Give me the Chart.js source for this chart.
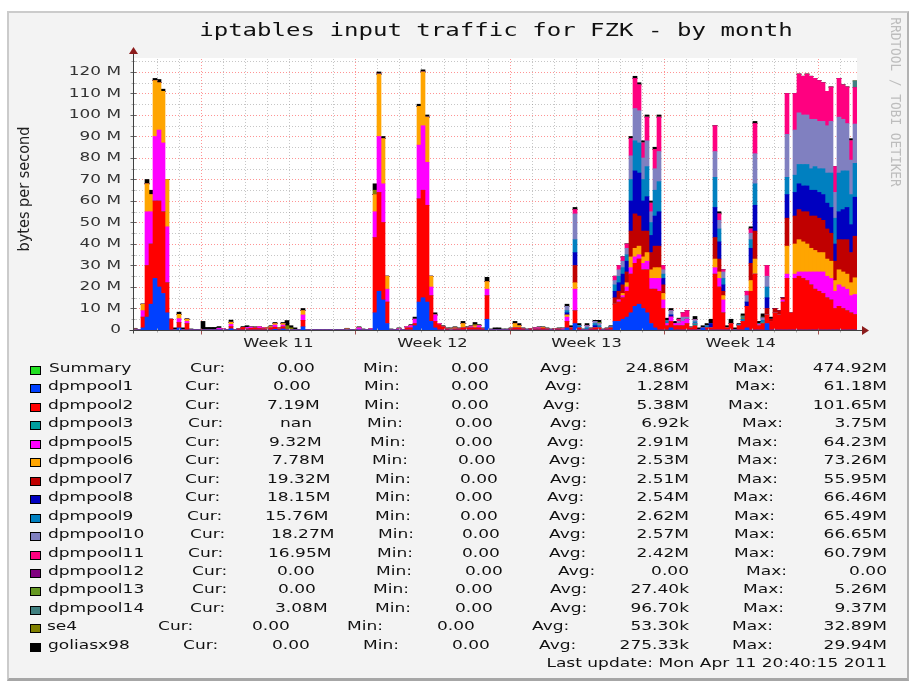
<!DOCTYPE html>
<html>
<head>
<meta charset="utf-8">
<title>iptables input traffic for FZK - by month</title>
<script src="https://cdn.jsdelivr.net/npm/chart.js@4.4.1/dist/chart.umd.min.js"></script>
<style>
  html, body { margin: 0; padding: 0; background: #fff; width: 911px; height: 684px; overflow: hidden; }
  #panel { position: absolute; left: 7px; top: 11px; width: 902px; height: 670px; box-sizing: border-box;
           background: #f3f3f3; border: 2px solid #cbcbcb; border-right-color: #b2b2b2; border-bottom: 3px solid #a6a6a6; }
  #graph { position: absolute; left: 0; top: 0; }
</style>
</head>
<body>
<div id="panel"></div>
<canvas id="graph" width="911" height="684"></canvas>
<script>
// one bin is roughly 4.4 hours, values in M (10^6 bytes per second)
// bins run from the left edge of the plot to "now"
const dpmpool1 = [
  0,0,1,6,12,24,20,17,8,0,
  0,1,0,0,0,0,0,0,0,0,
  0,0,0,0,0.6,0,0,0,0,0,
  0,0,0,0,0,0.3,0,0.5,0,0,
  0,0,1.5,0,0,0,0,0,0,0,
  0,0,0,0,0,0,0,0,0,0,
  8,18,14,3,0,0,0,0,0,0,
  2,13,15,13,4,1,0,0,0,0,
  0,0,0,0,0,0,0,0,5,0,
  0,0,0,0,0,0,0,0,0,0,
  0,0,0,0,0,0,0,0,1,0,
  3,0,0,0,0,0,0,0,0,0,
  4,4,5,6,8,11,12,10,8,3,
  1,0,0,0,1,0,0,0,0,0,
  0,0,1,0,0,0,0,0,0,0,
  0,0,0,1,0,0,0,0,3,0,
  0,0,0,0,0,0,0,0,0,0,
  0,0,0,0,0,0,0,0,0,0,
  0
];
const dpmpool2 = [
  0,0,5,24,28,36,40,38,14,5,
  0,2.5,0,3,0,0,0,0,0,0,
  0,0,0,0,1,0,0.5,1.2,0.5,0.8,
  1,0.7,0.6,0.5,1,1,0.5,1,0,0,
  0,0,3,0,0,0,0,0,0,0,
  0,0,0,0,0,0,0,0,0,0,
  35,46,36,10,0,0,0,0,1,1,
  1,48,50,45,12,3,2.5,1.5,0.5,0,
  0.5,0.5,1,1,1,1,1,0.5,11,0,
  0,0,0,0,0.5,1,1,0.5,0,0.5,
  0.5,0.5,0.7,0.5,0,0.5,0.5,0,3,1,
  6,1,0,0,0.5,1,1,0,0.5,1,
  8,9,10,12,18,20,21,18,20,16,
  18,18,10,2,3,2,2,2,3,1,
  2,0,0,1,1,26,20,8,1,3,
  0,2,4,10,18,26,2,3,4,4,
  8,7,13,24,8,24,25,24,23,21,
  19,18,17,15,14,10,11,10,9,8,
  7.19
];
const dpmpool3 = [
  0,0,0,0,0,0,0,0,0,0,
  0,0,0,0,0,0,0,0,0,0,
  0,0,0,0,0,0,0,0,0,0,
  0,0,0,0,0,0,0,0,0,0,
  0,0,0,0,0,0,0,0,0,0,
  0,0,0,0,0,0,0,0,0,0,
  0,0,0,0,0,0,0,0,0,0,
  0,0,0,0,0,0,0,0,0,0,
  0,0,0,0,0,0,0,0,0,0,
  0,0,0,0,0,0,0,0,0,0,
  0,0,0,0,0,0,0,0,0,0,
  0,0,0,0,0,0,0,0,0,0,
  0,0,0,0,0,0,0,0,0,0,
  0,0,0,0,0,0,0,0,0,0,
  0.8,0,0,0,0,0,0,0,0,0,
  0,0,0,0,0,0,0,0.5,0,0,
  0,0,0,0,0,0,0,0,0,0,
  0,0,0,0,0,0,0,0,0,0,
  0
];
const dpmpool5 = [
  0,0,3,25,15,30,33,32,26,0,
  0,1.8,0,1,0,0,0,0,0,0,
  0,0.8,0.5,0,1,0,0,0,0.7,0.5,
  0,0.8,0.4,0,0,1,0,0.8,0,0,
  0,0,2.5,0,0,0,0,0,0,0,
  0,0,0,0,0,0,1,0,0,0.5,
  12,26,18,6,0,0,0.5,0,0.5,1,
  2,25,30,20,4,3,0.5,0,0,0,
  0,0,0,0,0.5,0,1,0,3,0,
  0,0,0,0,0,0,0,0,0,0,
  0.4,0.5,0,0,0,0,0,0.5,2,0,
  10,0,0,0,0,0,0,0,0,0,
  0,1,1,2,3,3,2,3,4,5,
  5,6,4,1,2,1,1,2,2,0,
  0,0,0,0,0,3,4,6,0,0,
  0,0,0,0,0,0,0.5,0,0,0,
  0,0,1,2,0,2,2,3,4,6,
  8,9,10,10,10,8,10,10,10,8,
  9.32
];
const dpmpool6 = [
  0.4,0,3,13,8,26,22,24,22,0,
  0,2,0,1,0,0,0,0,0,0,
  0,0,0,0,1,0,0,0,0,0,
  0,0,0,0.5,0.6,0.7,0.5,0.7,0,0,
  0,0,2,0,0,0,0,0,0,0,
  0,0,0,0.5,0,0,0,0,0,0,
  8,29,21,6,0,0,0,0,0,0,
  0,18,25,21,5,0,0,0,0,0.5,
  0.5,0,2,0,0,1,0,0,3.5,0,
  0,0,0,0,0,2,1,0,0,0,
  0,0,0.4,0,0,0,0,0,1,0,
  3,0,0,0,0,0,0,0,0,0,
  0,0,1,2,5,4,4,3,4,4,
  5,5,3,0,0,0,0,0,0,0,
  0,0,0,0,0,4,3,2,0,0,
  0,0,0,0,5,7,0,0,0,0,
  0,0,0,13,0,14,15,14,13,11,
  10,9,9,8,8,5,7,7,7,6,
  7.78
];
const dpmpool7 = [
  0,0,0,0,0,0,0,0,0,0,
  0,0,0,0,0,0,0,0,0,0,
  0,0,0,0,0,0,0,0,0,0,
  0,0,0,0,0,0,0,0,0,0,
  0,0,0,0,0,0,0,0,0,0,
  0,0,0,0,0,0,0,0,0,0,
  0,0,0,0,0,0,0,0,0,0,
  0,0,0,0,0,0,0,0,0,0,
  0,0,0,0,0,0,0,0,0,0,
  0,0,0,0,0,0,0,0,0,0,
  0,0,0,0,0,0,0,0,0,0,
  8,0,0,0,0,0,0,0,0,0,
  3,4,4,5,12,16,14,12,10,8,
  10,10,4,0,0,0,0,0,0,0,
  0,0,0,0,0,10,6,2,0,0,
  0,0,0,0,8,13,0,0,3,1,
  2,2,1,13,0,13,14,14,15,15,
  16,16,15,14,13,9,14,15,16,14,
  19.32
];
const dpmpool8 = [
  0,0,0,0,0,0,0,0,0,0,
  0,0,0,0,0,0,0,0,0,0,
  0,0,0,0,0,0,0,0,0,0,
  0,0,0,0,0,0,0,0,0,0,
  0,0,0,0,0,0,0,0,0,0,
  0,0,0,0,0,0,0,0,0,0,
  0,0,0,0,0,0,0,0,0,0,
  0,0,0,0,0,0,0,0,0,0,
  0,0,0,0,0,0,0,0,0,0,
  0,0,0,0,0,0,0,0,0,0,
  0,0,0,0,0,0,0,0,1,0,
  6,0,0,0,0,1,0,0,0,0,
  3,4,5,5,14,20,20,14,16,8,
  14,16,3,0,1,0,0,0,0,0,
  0,0,0,0,2,14,8,3,0,0,
  0,0,0,2,7,12,0,0,5,0,
  0,0,0,11,0,11,12,12,12,12,
  12,12,12,12,12,8,13,14,15,13,
  18.15
];
const dpmpool9 = [
  0,0,0,0,0,0,0,0,0,0,
  0,0,0,0,0,0,0,0,0,0,
  0,0,0,0,0,0,0,0,0,0,
  0,0,0,0,0,0,0,0,0,0,
  0,0,0,0,0,0,0,0,0,0,
  0,0,0,0,0,0,0,0,0,0,
  0,0,0,0,0,0,0,0,0,0,
  0,0,0,0,0,0,0,0,0,0,
  0,0,0,0,0,0,0,0,0,0,
  0,0,0,0,0,0,0,0,0,0,
  0,0,0,0,0,0,0,0,1,0,
  6,1,0,1,0,1,1,0,0,0.5,
  3,3,3,3,10,14,14,10,14,6,
  12,14,2,1,0,0,0,0,0,0,
  1,0,0,1,0,14,6,3,0,0,
  0,0.5,1,0,4,10,0.5,1,5,0,
  0,0,0,8,0,8,9,10,10,10,
  11,11,12,14,16,12,18,18,17,14,
  15.76
];
const dpmpool10 = [
  0,0,0,0,0,0,0,0,0,0,
  0,0,0,0,0,0,0,0,0,0,
  0,0,0,0,0,0,0,0,0,0,
  0,0,0,0,0,0,0,0,0,0,
  0,0,0,0,0,0,0,0,0,0,
  0,0,0,0,0,0,0,0,0,0,
  0,0,0,0,0,0,0,0,0,0,
  0,0,0,0,0,0,0,0,0,0,
  0,0,0,0,0,0,0,0,0,0,
  0,0,0,0,0,0,0,0,0,0,
  0,0,0,0,0,0,0,0,2,0,
  12,0,0,1,0,1,1,0,0,0,
  2,3,3,3,11,15,15,10,12,5,
  10,14,2,0,2,0,1,2,1,0,
  1,0,0,0,0,12,4,3,0,0,
  0,0,0,3,3,14,0,1,5,0,
  0,0,0,20,0,21,24,23,23,23,
  22,22,22,22,24,12,26,24,22,16,
  18.27
];
const dpmpool11 = [
  0,0,0,0,0,0,0,0,0,0,
  0,0,0,0,0,0,0,0,0,0,
  0,0,0,0,0,0,0,0,0,0,
  0,0,0,0,0,0,0,0,0,0,
  0,0,0,0,0,0,0,0,0,0,
  0,0,0,0,0,0,0,0,0,0,
  0,0,0,0,0,0,0,0,0,0,
  0,0,0,0,0,0,0,0,0,0,
  0,0,0,0,0,0,0,0,0,0,
  0,0,0,0,0,0,0,0,0,0,
  0,0,0,0,0,0,0,0,0,0,
  2,0,0,0,0,0,0,0,0,0,
  2,2,2,2,8,14,12,7,11,4,
  9,16,2,0,0,0,1,2,3,0,
  0,0,0,0,0,12,3,1,0,0,
  0,0,0,2,2,14,0,0,5,0,
  0,0,0,19,0,17,18,18,19,20,
  19,19,18,16,16,12,18,16,17,9,
  16.95
];
const dpmpool12 = [
  0,0,0,0,0,0,0,0,0,0,
  0,0,0,0,0,0,0,0,0,0,
  0,0,0,0,0,0,0,0,0,0,
  0,0,0,0,0,0,0,0,0,0,
  0,0,0,0,0,0,0,0,0,0,
  0,0,0,0,0,0,0,0,0,0,
  0,0,0,0,0,0,0,0,0,0,
  0,0,0,0,0,0,0,0,0,0,
  0,0,0,0,0,0,0,0,0,0,
  0,0,0,0,0,0,0,0,0,0,
  0,0,0,0,0,0,0,0,0,0,
  0,0,0,0,0,0,0,0,0,0,
  0,0,0,0,0,0,0,0,0,0,
  0,0,0,0,0,0,0,0,0,0,
  0,0,0,0,0,0,0,0,0,0,
  0,0,0,0,0,0,0,0,0,0,
  0,0,0,0,0,0,0,0,0,0,
  0,0,0,0,0,0,0,0,0,0,
  0
];
const dpmpool13 = [
  0,0,0,0,0,0,0,0,0,0,
  0,0,0,0,0,0,0,0,0,0,
  0,0,0,0,0,0,0,0,0,0,
  0,0,0,0,0,0,0,0,0,0,
  0,0,0,0,0,0,0,0,0,0,
  0,0,0,0,0,0,0,0,0,0,
  0,0,0,0,0,0,0,0,0,0,
  0,0,0,0,0,0,0,0,0,0,
  0,0,0,0,0,0,0,0,0,0,
  0,0,0,0,0,0,0,0,0,0,
  0,0,0,0,0,0,0,0,0,0,
  0,0,0,0,0,0,0.5,0,0,0,
  0,0,0,0,0,0,0,0,0,0,
  0,0,0,0,0,0,0,0,0,0,
  0,0,0,0,0,0,0,0,0,0,
  0,0,0.5,0,0,0,0,0,0,0,
  0,0,0,0,0,0,0,0,0,0,
  0,0,0,0,0,0,0,0,0,0,
  0
];
const dpmpool14 = [
  0,0,0,0,0,0,0,0,0,0,
  0,0,0,0,0,0,0,0,0,0,
  0,0,0,0,0,0,0,0,0,0,
  0,0,0,0,0,0,0,0,0,0,
  0,0,0,0,0,0,0,0,0,0,
  0,0,0,0,0,0,0,0,0,0,
  0,0,0,0,0,0,0,0,0,0,
  0,0,0,0,0,0,0,0,0,0,
  0,0,0,0,0,0,0,0,0,0,
  0,0,0,0,0,0,0,0,0,0,
  0,0,0,0,0,0,0,0,0,0,
  0,0,0,0,0,0,0,0,0,0,
  0,0,0,0,0,0,0,0,0,0,
  0,0,0,0.5,0,0,0,0,0,0,
  0,0,0,0,0,0,0,0,0,0,
  0,0,1,0,0,0,0,0.5,0,0,
  0,0,0,0,0,0,0,0,0,0,
  0,0,0,0,0,0,0,0,0,0,
  3.08
];
const se4 = [
  0,0,0,0,0,0,0,0,0,0,
  0,0,0,0,0,0,0,0,0,0,
  0,0,0,0,0,0,0,0,0,0,
  0,0,0,0,0,0,0,0,2,1,
  0,0,0,0,0,0,0,0,0,0,
  0,0,0,0,0,0,0,0,0,0,
  2,0,0,0,0,0,0,0,0,0,
  0,0,0,0,0,0,0,0,0,0,
  0,0,0,0,0,0.5,0,0,0,0,
  0,0,0,0,0,0,0,0,0,0,
  0,0,0,0,0,0,0,0,0,0,
  0,0,0,0,0,0,0,0,0,0,
  0,0,0,0,0,0,0,0,0,0,
  0,0,0,0,0,0,0,0,0,0,
  0,0,0,0,0,0,0,0,0,0,
  0,0,0,0,0,0,0,0,0,0,
  0,0,0,0,0,0,0,0,0,0,
  0,0,0,0,0,0,0,0,0,0,
  0
];
const goliasx98 = [
  0.4,0,0,2,2,1,1.5,1,0,0,
  1,1,1,0.3,0.5,0,0,4,1.2,1.2,
  1.2,0.8,0,0,1,0,0,0.4,0.8,0.2,
  0.5,0,0,0,0.4,0.5,0,0.5,2.4,1,
  1,0,1,0,0,0,0,0,0,0,
  0,0.3,0,0.3,0.3,0.3,0.5,0.5,0.3,0,
  3,1,1,0,0.5,0.3,0.5,0.3,0,0.5,
  1,1,1,1,0,1,0,0.5,0.5,0.5,
  0.5,0.5,1,0.5,0.5,1,0.5,0.5,2,0.5,
  1,1,0.5,0.5,0.5,1,1,0.5,0.5,0,
  0.3,0.5,0.4,0.5,0.5,0,0.5,0.5,1,1,
  1,1,0.5,1,0.5,0.5,1,0.5,0.5,0.5,
  0,0,0,0,1,1,1,1,1,1,
  1,1,0,1,1,1,0.5,0,0,0.5,
  1.5,1,1,1,2,0,1,0,1,2,
  1,0.5,1,0,1,1,1,1.5,0,1,
  0,0,0,0,0,0,0,0,0,0,
  0,0,0,0,0,0,0,0,0,1,
  0
];

const weekLabels = ['Week 11', 'Week 12', 'Week 13', 'Week 14'];

// legend (same order as the stack, Summary first)
const legendNames = ['Summary', 'dpmpool1', 'dpmpool2', 'dpmpool3', 'dpmpool5', 'dpmpool6', 'dpmpool7', 'dpmpool8',
  'dpmpool9', 'dpmpool10', 'dpmpool11', 'dpmpool12', 'dpmpool13', 'dpmpool14', 'se4', 'goliasx98'];
const legendColors = ['#22e022', '#0040ff', '#ff0000', '#00a0a0', '#ff00ff', '#ffa500', '#c00000', '#0000c0',
  '#0080c0', '#8080c0', '#ff0080', '#800080', '#669922', '#408080', '#808000', '#000000'];
const curVals = ['0.00', '0.00', '7.19M', 'nan', '9.32M', '7.78M', '19.32M', '18.15M', '15.76M', '18.27M', '16.95M',
  '0.00', '0.00', '3.08M', '0.00', '0.00'];
const minVals = ['0.00', '0.00', '0.00', '0.00', '0.00', '0.00', '0.00', '0.00', '0.00', '0.00', '0.00',
  '0.00', '0.00', '0.00', '0.00', '0.00'];
const avgVals = ['24.86M', '1.28M', '5.38M', '6.92k', '2.91M', '2.53M', '2.51M', '2.54M', '2.62M', '2.57M', '2.42M',
  '0.00', '27.40k', '96.70k', '53.30k', '275.33k'];
const maxVals = ['474.92M', '61.18M', '101.65M', '3.75M', '64.23M', '73.26M', '55.95M', '66.46M', '65.49M', '66.65M',
  '60.79M', '0.00', '5.26M', '9.37M', '32.89M', '29.94M'];
const lastUpdate = 'Last update: Mon Apr 11 20:40:15 2011';

// x of: name, "Cur:", cur value, "Min:", min value, "Avg:", "Max:"  (rrdtool pads with spaces, so it wobbles)
const legendX = [
  [49, 190, 277, 363, 451, 540, 733],
  [48, 185, 273, 364, 451, 545, 735],
  [48, 185, 267, 364, 451, 543, 728],
  [48, 188, 280, 367, 455, 550, 742],
  [48, 185, 269, 370, 455, 547, 737],
  [48, 185, 272, 372, 458, 549, 737],
  [48, 185, 267, 375, 460, 550, 737],
  [48, 185, 267, 375, 455, 547, 733],
  [48, 187, 265, 375, 460, 549, 734],
  [48, 190, 271, 378, 462, 549, 734],
  [48, 188, 268, 377, 462, 549, 734],
  [48, 192, 277, 376, 465, 558, 746],
  [48, 192, 278, 373, 455, 550, 743],
  [48, 190, 275, 375, 455, 550, 743],
  [47, 158, 252, 347, 437, 532, 732],
  [48, 183, 272, 363, 452, 539, 732]
];

const stack = [
  ['dpmpool1', dpmpool1, '#0040ff'],
  ['dpmpool2', dpmpool2, '#ff0000'],
  ['dpmpool3', dpmpool3, '#00a0a0'],
  ['dpmpool5', dpmpool5, '#ff00ff'],
  ['dpmpool6', dpmpool6, '#ffa500'],
  ['dpmpool7', dpmpool7, '#c00000'],
  ['dpmpool8', dpmpool8, '#0000c0'],
  ['dpmpool9', dpmpool9, '#0080c0'],
  ['dpmpool10', dpmpool10, '#8080c0'],
  ['dpmpool11', dpmpool11, '#ff0080'],
  ['dpmpool12', dpmpool12, '#800080'],
  ['dpmpool13', dpmpool13, '#669922'],
  ['dpmpool14', dpmpool14, '#408080'],
  ['se4', se4, '#808000'],
  ['goliasx98', goliasx98, '#000000']
];

const SPAN_DAYS = 32.9;      // plot width in days
const FIRST_MONDAY = 3.11;   // first week line, days from the left edge
const RED_GRID = 'rgba(255,0,0,0.42)';
const GRAY_GRID = 'rgba(128,128,128,0.45)';

// rrdtool text comes out wide, so stretch it sideways
function txt(ctx, s, x, y, font, align, sx, color) {
  ctx.save();
  ctx.translate(x, y);
  ctx.scale(sx, 1);
  ctx.font = font;
  ctx.textAlign = align;
  ctx.textBaseline = 'middle';
  ctx.fillStyle = color;
  ctx.fillText(s, 0, 0);
  ctx.restore();
}
function txtRot(ctx, s, x, y, font, angle, sx, color) {
  ctx.save();
  ctx.translate(x, y);
  ctx.scale(sx, 1);
  ctx.rotate(angle);
  ctx.font = font;
  ctx.textAlign = 'center';
  ctx.textBaseline = 'middle';
  ctx.fillStyle = color;
  ctx.fillText(s, 0, 0);
  ctx.restore();
}
const dayX = (chart, d) => chart.scales.x.getPixelForDecimal(d / SPAN_DAYS);

const rrdLook = {
  id: 'rrdLook',
  beforeDatasetsDraw(chart) {
    const { ctx, chartArea: a } = chart;
    const y = chart.scales.y;
    ctx.save();
    ctx.fillStyle = '#ffffff';
    ctx.fillRect(a.left, a.top, a.right - a.left, a.bottom - a.top);
    ctx.lineWidth = 1;
    ctx.setLineDash([1, 2]);
    for (let v = 5; v < y.max; v += 5) {
      const py = Math.round(y.getPixelForValue(v)) + 0.5;
      ctx.strokeStyle = v % 10 === 0 ? RED_GRID : GRAY_GRID;
      ctx.beginPath(); ctx.moveTo(a.left, py); ctx.lineTo(a.right, py); ctx.stroke();
    }
    for (let k = -4; k < 32; k++) {
      const d = FIRST_MONDAY + k;
      if (d < 0.15 || d > SPAN_DAYS) continue;
      const px = Math.round(dayX(chart, d)) + 0.5;
      ctx.strokeStyle = ((k % 7) + 7) % 7 === 0 ? RED_GRID : GRAY_GRID;
      ctx.beginPath(); ctx.moveTo(px, a.bottom); ctx.lineTo(px, a.top); ctx.stroke();
    }
    ctx.restore();
  },
  afterDatasetsDraw(chart) {
    const { ctx, chartArea: a } = chart;
    const y = chart.scales.y;
    const x0 = Math.round(a.left) + 0.5, y0 = Math.round(a.bottom) + 0.5;
    ctx.save();
    ctx.setLineDash([]);
    ctx.lineWidth = 1;
    for (let v = 5; v < y.max; v += 5) {
      const py = Math.round(y.getPixelForValue(v)) + 0.5;
      const w = v % 10 === 0 ? 3 : 2;
      ctx.strokeStyle = v % 10 === 0 ? '#666' : '#aaa';
      ctx.beginPath(); ctx.moveTo(x0 - w, py); ctx.lineTo(x0 + w, py); ctx.stroke();
    }
    for (let k = -4; k < 32; k++) {
      const d = FIRST_MONDAY + k;
      if (d < 0.15 || d > SPAN_DAYS) continue;
      const px = Math.round(dayX(chart, d)) + 0.5;
      const major = ((k % 7) + 7) % 7 === 0;
      ctx.strokeStyle = major ? '#a05050' : '#aaa';
      ctx.beginPath(); ctx.moveTo(px, y0 - 2); ctx.lineTo(px, y0 + (major ? 4 : 2)); ctx.stroke();
    }
    ctx.strokeStyle = '#404040';
    ctx.beginPath(); ctx.moveTo(x0, y0 + 3); ctx.lineTo(x0, a.top - 5); ctx.stroke();
    ctx.beginPath(); ctx.moveTo(x0 - 4, y0); ctx.lineTo(a.right + 6, y0); ctx.stroke();
    ctx.fillStyle = '#8c1c1c';
    ctx.beginPath();
    ctx.moveTo(x0 - 4.5, a.top - 4); ctx.lineTo(x0 + 4.5, a.top - 4); ctx.lineTo(x0, a.top - 11);
    ctx.closePath(); ctx.fill();
    ctx.beginPath();
    ctx.moveTo(a.right + 5, y0 - 4.5); ctx.lineTo(a.right + 5, y0 + 4.5); ctx.lineTo(a.right + 12, y0);
    ctx.closePath(); ctx.fill();
    ctx.restore();
  },
  afterDraw(chart) {
    const { ctx, chartArea: a } = chart;
    const y = chart.scales.y;
    // title and watermark
    txt(ctx, 'iptables input traffic for FZK - by month', 496, 31, '18.5px "DejaVu Sans Mono"', 'center', 1.3, '#111');
    txtRot(ctx, 'RRDTOOL / TOBI OETIKER', 894, 102, '12.8px "DejaVu Sans Mono"', Math.PI / 2, 1.05, '#bdbdbd');
    // y axis
    txtRot(ctx, 'bytes per second', 25, 189, '14.5px "DejaVu Sans"', -Math.PI / 2, 1.12, '#222');
    y.ticks.forEach(t => {
      if (t.value % 10 !== 0) return;
      const label = t.value === 0 ? '0' : t.value + ' M';
      txt(ctx, label, 121, y.getPixelForValue(t.value), '13px "DejaVu Sans"', 'right', 1.3, '#333');
    });
    // x axis
    weekLabels.forEach((w, j) => {
      const px = dayX(chart, FIRST_MONDAY + 7 * j + 3.5);
      txt(ctx, w, px, 344, '13px "DejaVu Sans"', 'center', 1.25, '#222');
    });
    // legend
    const F = '13px "DejaVu Sans"', S = 1.31, C = '#111';
    legendNames.forEach((name, i) => {
      const ry = Math.round(369 + i * 18.45);
      const p = legendX[i];
      ctx.fillStyle = '#000';
      ctx.fillRect(30, ry - 3, 11, 9);
      ctx.fillStyle = legendColors[i];
      ctx.fillRect(31, ry - 2, 9, 7);
      txt(ctx, name, p[0], ry, F, 'left', S, C);
      txt(ctx, 'Cur:', p[1], ry, F, 'left', S, C);
      txt(ctx, curVals[i], p[2], ry, F, 'left', S, C);
      txt(ctx, 'Min:', p[3], ry, F, 'left', S, C);
      txt(ctx, minVals[i], p[4], ry, F, 'left', S, C);
      txt(ctx, 'Avg:', p[5], ry, F, 'left', S, C);
      txt(ctx, avgVals[i], 689, ry, F, 'right', S, C);
      txt(ctx, 'Max:', p[6], ry, F, 'left', S, C);
      txt(ctx, maxVals[i], 887, ry, F, 'right', S, C);
    });
    txt(ctx, lastUpdate, 887, 664, F, 'right', S, C);
  }
};

const bins = dpmpool1.map((_, i) => String(i));

new Chart(document.getElementById('graph'), {
  type: 'bar',
  data: {
    labels: bins,
    datasets: stack.map(([name, data, color]) => ({
      label: name,
      data: data,
      backgroundColor: color,
      borderWidth: 0,
      barPercentage: 1,
      categoryPercentage: 1,
      stack: 'all'
    }))
  },
  options: {
    responsive: false,
    animation: false,
    devicePixelRatio: 1,
    events: [],
    layout: { padding: { left: 0, top: 58, right: 54, bottom: 354 } },
    plugins: { legend: { display: false }, tooltip: { enabled: false } },
    scales: {
      x: { display: false, stacked: true, grid: { display: false } },
      y: {
        stacked: true,
        min: 0,
        max: 126.5,
        ticks: { display: false, stepSize: 10 },
        grid: { display: false },
        border: { display: false },
        afterFit: s => { s.width = 133; }
      }
    }
  },
  plugins: [rrdLook]
});
</script>
</body>
</html>
